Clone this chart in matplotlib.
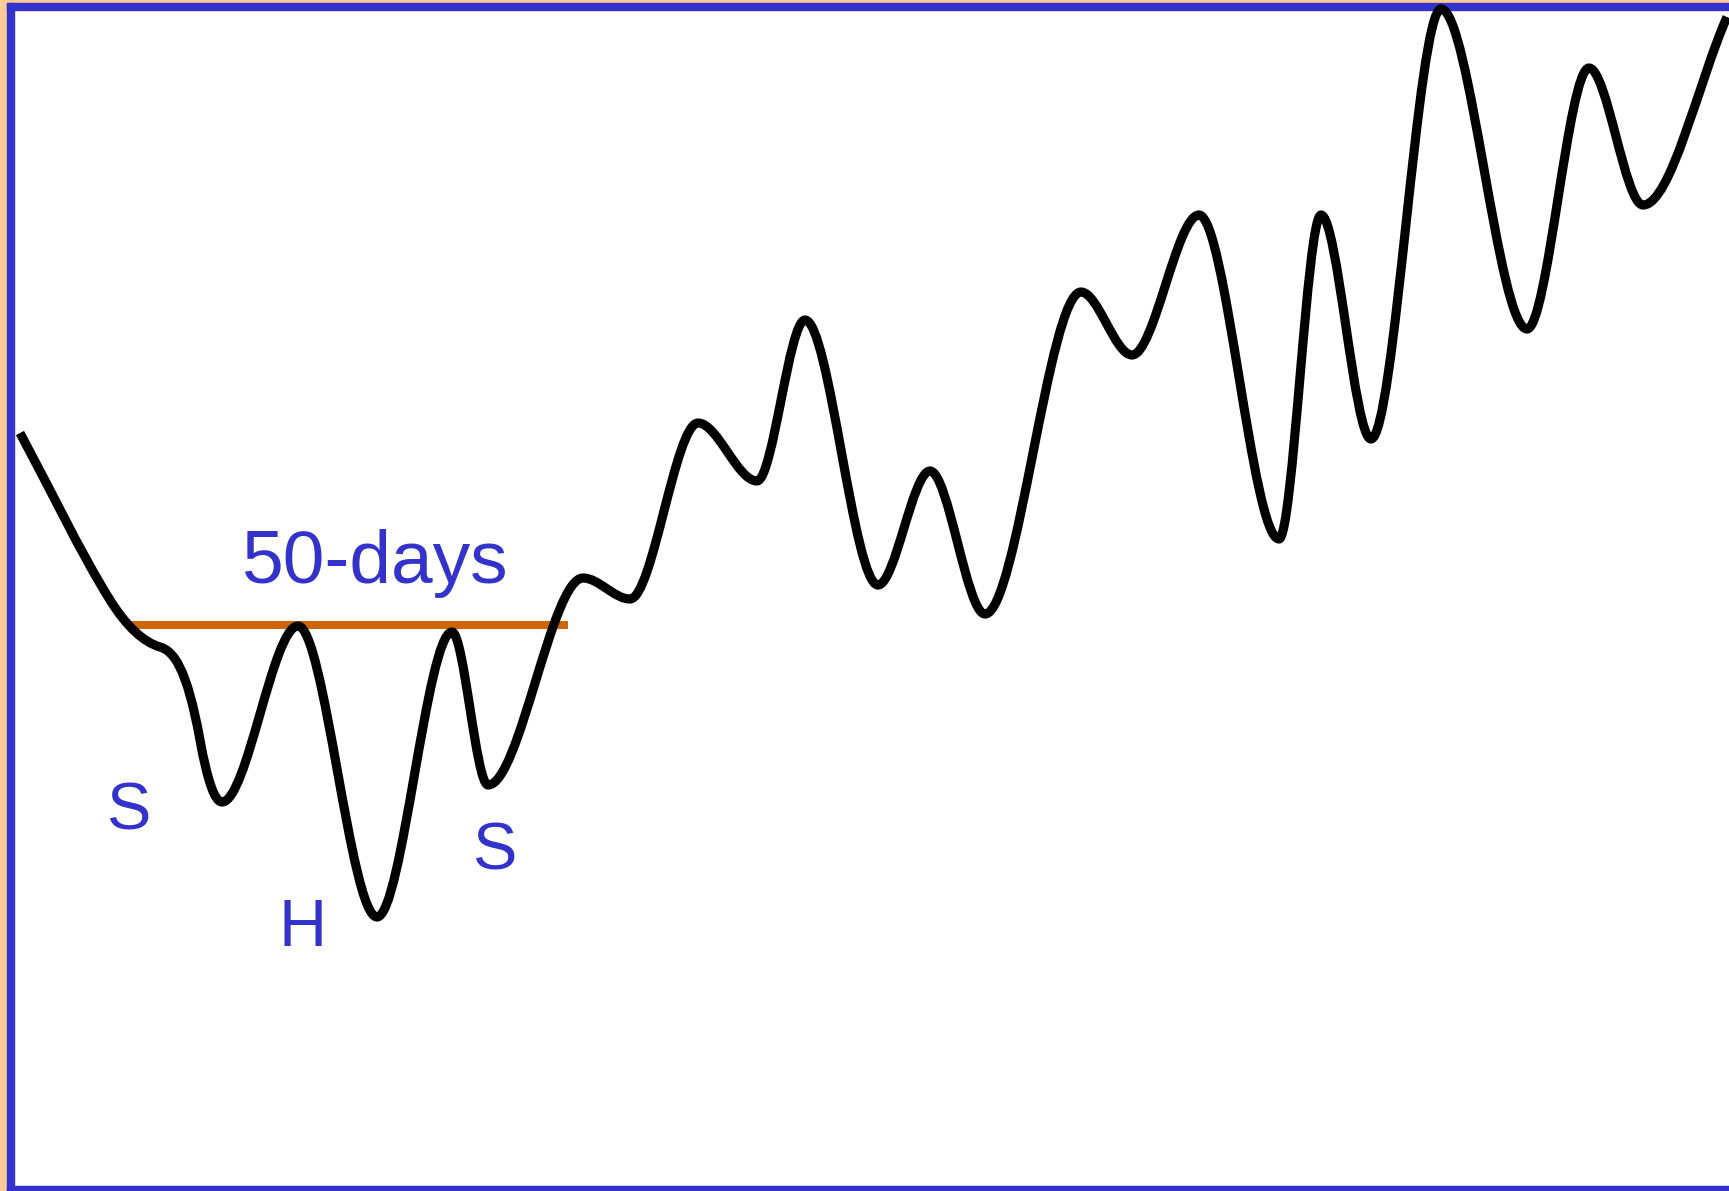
import matplotlib
matplotlib.use("Agg")
import matplotlib.pyplot as plt
from matplotlib.path import Path
from matplotlib.patches import PathPatch, Rectangle
import numpy as np

# price path (x = day position, y = level, screen rows so y grows downward)
days = [20, 110, 160, 200, 222, 298, 377, 452, 488, 583, 630, 698, 757, 805, 878,
        930, 985, 1081, 1132, 1199, 1279, 1321, 1371, 1441, 1527, 1589, 1643, 1727]
level = [433, 600, 647, 740, 802, 626, 917, 632, 785, 578, 599, 423, 481, 320, 585,
         471, 614, 292, 355, 215, 539, 215, 439, 9, 329, 68, 205, 17]
# hand-read slopes around the left shoulder, where it flattens then drops
slope_override = {1: 1.6, 2: 0.3, 3: 5.5}

# 50-day neckline
neck_start, neck_end, neck_level = 127, 568, 625

labels = ["S", "H", "S"]
label_x = [128, 303, 494]
label_y = [813, 929, 852]

blue = "#3333CC"
peach = "#FFCC99"
rust = "#CC6600"


def pchip_slopes(x, y):
    x = np.asarray(x, float)
    y = np.asarray(y, float)
    h = np.diff(x)
    d = np.diff(y) / h
    m = np.zeros_like(y)
    m[0] = d[0]
    m[-1] = d[-1]
    for i in range(1, len(y) - 1):
        if d[i - 1] * d[i] <= 0:
            m[i] = 0.0
        else:
            w1 = 2 * h[i] + h[i - 1]
            w2 = h[i] + 2 * h[i - 1]
            m[i] = (w1 + w2) / (w1 / d[i - 1] + w2 / d[i])
    for i, v in slope_override.items():
        m[i] = v
    return m


def bezier_path(x, y):
    m = pchip_slopes(x, y)
    verts = [(x[0], y[0])]
    codes = [Path.MOVETO]
    for i in range(len(x) - 1):
        dx = x[i + 1] - x[i]
        verts += [(x[i] + dx / 3, y[i] + m[i] * dx / 3),
                  (x[i + 1] - dx / 3, y[i + 1] - m[i + 1] * dx / 3),
                  (x[i + 1], y[i + 1])]
        codes += [Path.CURVE4] * 3
    return Path(verts, codes), m


fig = plt.figure(figsize=(17.29, 11.91), dpi=100)
fig.patch.set_facecolor("white")
ax = fig.add_axes([0, 0, 1, 1])
ax.set_xlim(0, 1729)
ax.set_ylim(1191, 0)
ax.axis("off")

# slide frame
ax.add_patch(Rectangle((0, 0), 7, 1191, color=peach, zorder=1))
ax.add_patch(Rectangle((0, 0), 1729, 3, color=peach, zorder=1))
ax.add_patch(Rectangle((7, 3), 7, 1191, color=blue, zorder=1))
ax.add_patch(Rectangle((7, 3), 1729, 7, color=blue, zorder=1))
ax.add_patch(Rectangle((7, 1186), 1729, 6, color=blue, zorder=1))

ax.hlines(neck_level, neck_start, neck_end, color=rust, lw=5.8, zorder=2)

path, slopes = bezier_path(days, level)
curve = PathPatch(path, facecolor="none", edgecolor="black",
                  lw=6.6, capstyle="butt", joinstyle="round", zorder=3)
ax.add_patch(curve)

# tiny arrow head at the end of the path
end_x, end_y = days[-1], level[-1]
back = 12 / np.hypot(1, slopes[-1])
ax.annotate("", xy=(end_x, end_y), xytext=(end_x - back, end_y - slopes[-1] * back),
            arrowprops=dict(arrowstyle="-|>", mutation_scale=14, color="black", lw=0),
            zorder=4)

ax.text(375, 583, "50-days", color=blue, fontsize=54, family="Liberation Sans",
        ha="center", va="baseline", zorder=4)
for t, lx, ly in zip(labels, label_x, label_y):
    ax.text(lx, ly, t, color=blue, fontsize=48, family="Liberation Sans",
            ha="center", va="center", zorder=4)

fig.savefig("out.png", dpi=100, facecolor=fig.get_facecolor())
